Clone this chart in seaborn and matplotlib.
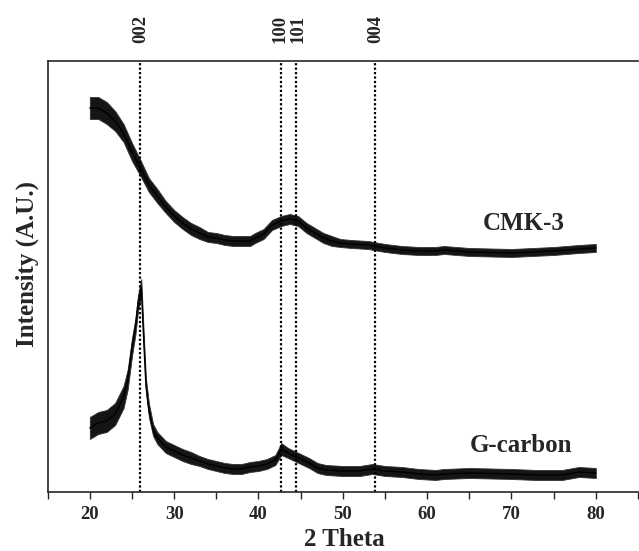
import numpy as np
import pandas as pd
import matplotlib
matplotlib.use("Agg")
import matplotlib.pyplot as plt
import seaborn as sns

# CMK-3 trace (arbitrary units)
cmk_theta = [20, 21, 22, 23, 24, 25, 26, 27, 28, 29,
             30, 31, 32, 33, 34, 35, 36, 37, 38, 39,
             39.6, 40.6, 41.6, 42.7, 43.7, 44.7, 45.7, 46.7, 47.7, 48.7, 49.7,
             51, 53, 55, 57, 59, 61,
             62, 65, 70, 75, 78, 80]
cmk_int = [384, 384, 379, 371, 359, 340, 324, 307, 296, 285,
           276, 269, 263, 259, 255, 254, 252, 251, 251, 251,
           254, 258, 267, 271, 273, 271, 264, 259, 254, 251, 249,
           248, 247, 244, 242, 241, 241,
           242, 240, 239, 241, 243, 244]
cmk_noise = [11, 11, 11, 10, 9, 9, 8, 7, 7, 6,
             6, 6, 6, 6, 5, 5, 5, 5, 5, 5,
             5, 5, 5, 5, 5, 5, 5, 5, 5, 5, 4,
             4, 4, 4, 4, 4, 4,
             4, 4, 4, 4, 4, 4]

# G-carbon trace
gc_theta = [20, 21, 22, 23, 24, 24.5, 25, 25.4, 25.7, 26.1, 26.4, 26.65,
            27, 27.5, 28, 29, 30, 31, 32, 33, 34, 35, 36, 37, 38, 39, 40,
            41, 42, 42.7, 43.5, 44.5, 45.5, 46, 47, 48,
            50, 52, 53.5, 55, 57, 59, 61,
            62, 65, 70, 73, 76, 78, 80]
gc_int = [64, 69, 71, 78, 95, 113, 145, 165, 188, 205, 150, 107,
          82, 62, 54, 45, 41, 37, 34, 31, 28, 26, 24, 23, 23, 25, 26,
          28, 32, 43, 39, 35, 31, 29, 24, 22,
          21, 21, 23, 21, 20, 18, 17,
          18, 19, 18, 17, 17, 20, 19]
gc_noise = [11, 11, 11, 11, 11, 10, 9, 8, 8, 8, 7, 7,
            7, 6, 6, 6, 6, 6, 6, 5, 5, 5, 5, 5, 5, 5, 5,
            5, 5, 6, 5, 5, 5, 5, 5, 5,
            5, 5, 5, 5, 5, 5, 5,
            5, 5, 5, 5, 5, 5, 5]

peak_pos = [26.0, 42.7, 44.45, 53.85]
peak_names = ["002", "100", "101", "004"]
label_shift = [0, -0.2, 0.2, 0]

xticks = [15, 20, 25, 30, 35, 40, 45, 50, 55, 60, 65, 70, 75, 80, 85]
xtick_labels = ["", "20", "", "30", "", "40", "", "50", "", "60", "", "70", "", "80", ""]

sns.set_style("ticks")
plt.rcParams["font.family"] = ["Liberation Serif", "DejaVu Serif"]
plt.rcParams["font.weight"] = "bold"

fig = plt.figure(figsize=(6.39, 5.51), dpi=100)
ax = fig.add_axes([0.0746, 0.1071, 0.9238, 0.7822])

cmk = pd.DataFrame({"theta": cmk_theta, "intensity": cmk_int, "noise": cmk_noise})
gc = pd.DataFrame({"theta": gc_theta, "intensity": gc_int, "noise": gc_noise})

for df in [cmk, gc]:
    ax.fill_between(df["theta"], df["intensity"] - df["noise"],
                    df["intensity"] + df["noise"], color="#151515", lw=0.6,
                    edgecolor="#333333")
    sns.lineplot(data=df, x="theta", y="intensity", ax=ax, color="black", lw=1.0)

for pos, name, dx in zip(peak_pos, peak_names, label_shift):
    ax.axvline(pos, color="black", lw=1.6, linestyle=(0, (1, 1)))
    ax.text(pos + dx, 1.042, name, transform=ax.get_xaxis_transform(), rotation=90,
            ha="center", va="bottom", fontsize=13.5, fontweight="bold")

ax.text(71.5, 262, "CMK-3", ha="center", va="baseline", fontsize=18, fontweight="bold")
ax.text(71.1, 40, "G-carbon", ha="center", va="baseline", fontsize=18, fontweight="bold")

ax.set_xlim(15, 85)
ax.set_ylim(0, 431)
ax.set_xticks(xticks)
ax.set_xticklabels(xtick_labels, fontsize=13.5, fontweight="bold")
ax.set_yticks([])
ax.tick_params(axis="x", direction="out", length=5, width=1, pad=5)

ax.set_xlabel("2 Theta", fontsize=18, fontweight="bold")
ax.xaxis.set_label_coords(0.503, -0.083)
ax.set_ylabel("Intensity (A.U.)", fontsize=18, fontweight="bold", va="center")
ax.yaxis.set_label_coords(-0.035, 0.53)

for side in ["left", "bottom", "top"]:
    ax.spines[side].set_linewidth(1.2)
ax.spines["right"].set_visible(False)

fig.savefig("out.png", dpi=100)
